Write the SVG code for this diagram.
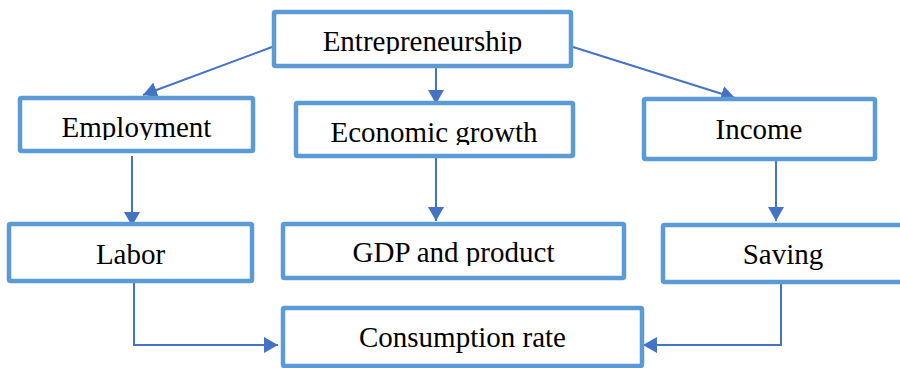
<svg xmlns="http://www.w3.org/2000/svg" width="900" height="368" viewBox="0 0 900 368">
  <style>
    .box { fill: #ffffff; stroke: #5B9BD5; stroke-width: 4.5; }
    .lbl { font-family: "Liberation Serif", "Times New Roman", serif; font-size: 29px; fill: #000000; text-anchor: middle; }
    .conn { fill: none; stroke: #4472C4; stroke-width: 2; }
  </style>
  <defs>
    <marker id="arrow" viewBox="0 0 14 16" refX="14" refY="8" markerWidth="14" markerHeight="16" markerUnits="userSpaceOnUse" orient="auto">
      <path d="M0,0 L14,8 L0,16 Z" fill="#4472C4"/>
    </marker>
    <clipPath id="clipEnt"><rect x="0" y="0" width="900" height="54"/></clipPath>
    <clipPath id="clipEmp"><rect x="0" y="0" width="900" height="140"/></clipPath>
    <clipPath id="clipEco"><rect x="0" y="0" width="900" height="145"/></clipPath>
    <clipPath id="clipGdp"><rect x="0" y="0" width="900" height="266"/></clipPath>
  </defs>

  <rect width="900" height="368" fill="#ffffff"/>

  <g id="connectors">
    <line class="conn" x1="272" y1="47" x2="143" y2="95" marker-end="url(#arrow)"/>
    <line class="conn" x1="436" y1="68" x2="436" y2="104" marker-end="url(#arrow)"/>
    <line class="conn" x1="573" y1="47" x2="735" y2="98" marker-end="url(#arrow)"/>
    <line class="conn" x1="132" y1="156" x2="132" y2="226" marker-end="url(#arrow)"/>
    <line class="conn" x1="436" y1="158" x2="436" y2="221" marker-end="url(#arrow)"/>
    <line class="conn" x1="776" y1="160" x2="776" y2="221" marker-end="url(#arrow)"/>
    <polyline class="conn" points="134,283 134,345 278,345" marker-end="url(#arrow)"/>
    <polyline class="conn" points="781,278 781,345 643,345" marker-end="url(#arrow)"/>
  </g>

  <g id="node-entrepreneurship">
    <rect class="box" x="274" y="12" width="297" height="54" rx="1.5"/>
    <text class="lbl" x="422.5" y="51" clip-path="url(#clipEnt)">Entrepreneurship</text>
  </g>

  <g id="node-employment">
    <rect class="box" x="20" y="98" width="233" height="53" rx="1.5"/>
    <text class="lbl" x="136.5" y="137" clip-path="url(#clipEmp)">Employment</text>
  </g>

  <g id="node-economic-growth">
    <rect class="box" x="296" y="103" width="277" height="53" rx="1.5"/>
    <text class="lbl" x="434" y="142" clip-path="url(#clipEco)">Economic growth</text>
  </g>

  <g id="node-income">
    <rect class="box" x="644" y="99" width="231" height="60" rx="1.5"/>
    <text class="lbl" x="759" y="139">Income</text>
  </g>

  <g id="node-labor">
    <rect class="box" x="9" y="224" width="243" height="57" rx="1.5"/>
    <text class="lbl" x="130.5" y="264">Labor</text>
  </g>

  <g id="node-gdp">
    <rect class="box" x="283" y="224" width="341" height="54" rx="1.5"/>
    <text class="lbl" x="453.5" y="262" clip-path="url(#clipGdp)">GDP and product</text>
  </g>

  <g id="node-saving">
    <rect class="box" x="663" y="225" width="242" height="57" rx="1.5"/>
    <text class="lbl" x="783" y="264">Saving</text>
  </g>

  <g id="node-consumption">
    <rect class="box" x="283" y="308" width="359" height="58" rx="1.5"/>
    <text class="lbl" x="462.5" y="347">Consumption rate</text>
  </g>
</svg>
